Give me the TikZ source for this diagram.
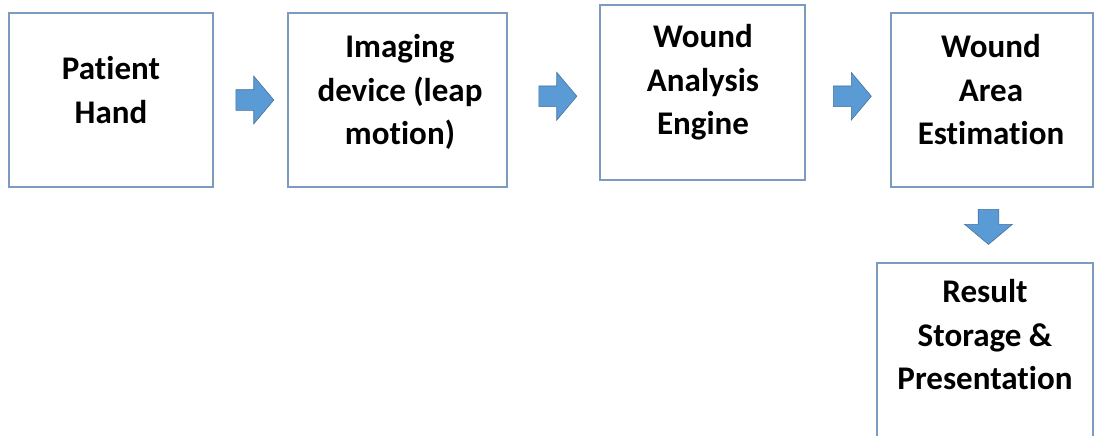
\documentclass[tikz,border=0pt]{standalone}
\usepackage{fontspec}
\setmainfont{Carlito}[Ligatures=CommonOff]
\usepackage{tikz}
\usetikzlibrary{shapes.arrows,calc}
\definecolor{boxline}{RGB}{125,155,192}
\definecolor{arrowfill}{RGB}{91,155,213}
\definecolor{arrowline}{RGB}{65,113,156}

\begin{document}
\begin{tikzpicture}[x=0.025cm,y=-0.025cm]
	\tikzstyle{blue-box}=[draw=boxline,line width=1.2pt,rectangle,minimum height=4.35cm]
	\tikzstyle{box-text}=[anchor=north,align=center,inner sep=0pt,font=\fontsize{23.5}{31}\selectfont\bfseries]
	\tikzstyle{flow-arrow}=[single arrow,fill=arrowfill,draw=arrowline,line width=0.4pt,inner sep=0.25cm,minimum height=0.95cm,single arrow head extend=0.34cm,single arrow tip angle=100]
	\useasboundingbox (0,0) rectangle (1094,435);
	% boxes
	\node [blue-box,minimum width=5.1cm] at (111,100) (hand) {};
	\node [blue-box,minimum width=5.475cm] at (397.5,100) (device) {};
	\node [blue-box,minimum width=5.125cm,minimum height=4.375cm] at (702.5,92.5) (engine) {};
	\node [blue-box,minimum width=5.05cm] at (992,100) (area) {};
	\node [blue-box,minimum width=5.4cm] at (985,350) (result) {};
	% texts
	\node [box-text] at (111,56) (hand-txt) {Patient\\Hand};
	\node [box-text] at (400,34) (device-txt) {Imaging\\device (leap\\motion)};
	\node [box-text] at (703,24) (engine-txt) {Wound\\Analysis\\Engine};
	\node [box-text] at (991,34) (area-txt) {Wound\\Area\\Estimation};
	\node [box-text] at (985,279) (result-txt) {Result\\Storage \&\\Presentation};
	% arrows
	\node [flow-arrow] at ($(hand.east)!0.5!(device.west)$) (arrow-a) {};
	\node [flow-arrow] at ($(device.east)!0.5!(engine.west)$) (arrow-b) {};
	\node [flow-arrow] at ($(engine.east)!0.5!(area.west)$) (arrow-c) {};
	\node [flow-arrow,shape border rotate=270,minimum height=0.875cm] at ([yshift=0.06cm]$(area.south)!0.5!(result.north)$) (arrow-d) {};
\end{tikzpicture}
\end{document}
